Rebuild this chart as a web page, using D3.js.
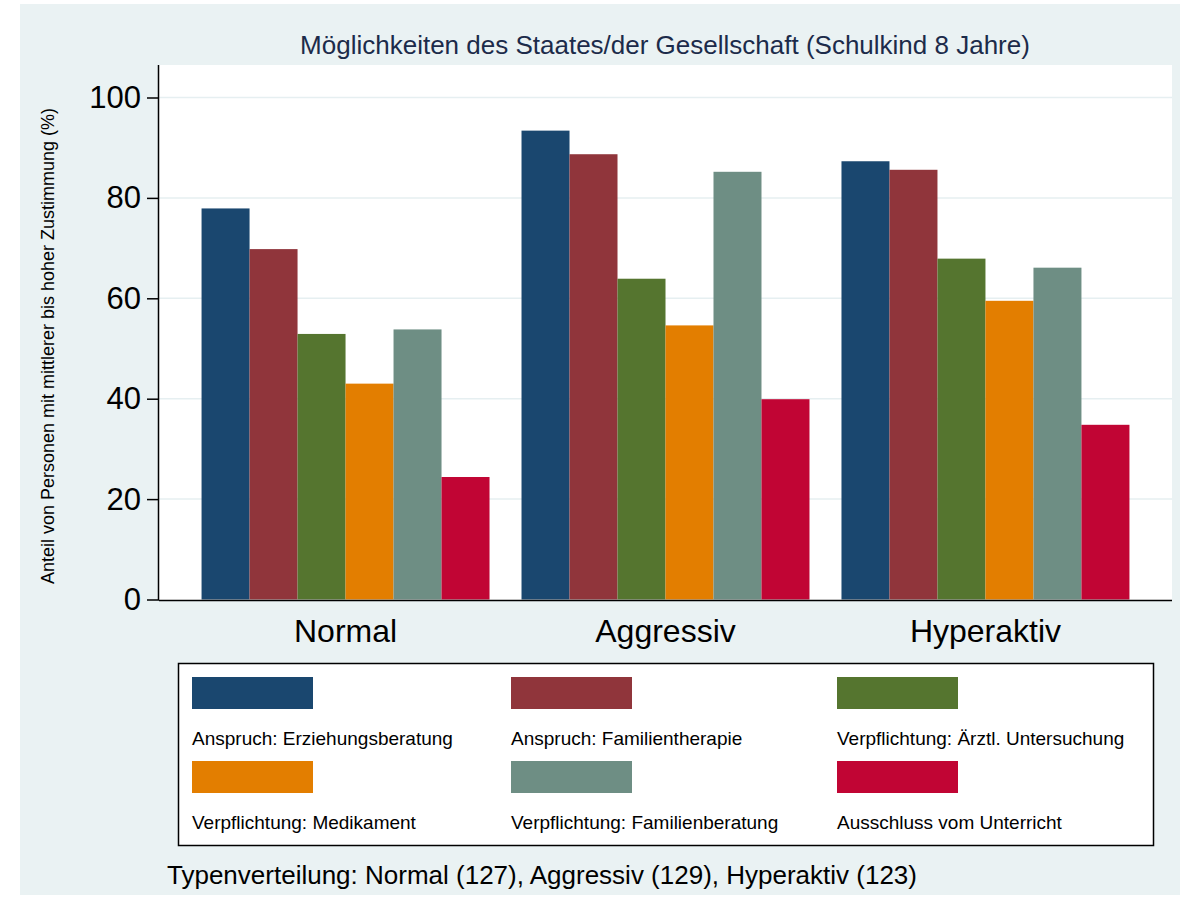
<!DOCTYPE html>
<html><head><meta charset="utf-8">
<script src="https://cdn.jsdelivr.net/npm/d3@7"></script>
<style>body{margin:0;background:#fff;}svg{display:block;font-family:"Liberation Sans",Arial,sans-serif;}</style>
</head><body><svg id="c" width="1189" height="899"></svg>
<script>
const categories = ["Normal", "Aggressiv", "Hyperaktiv"];
const seriesNames = ["Anspruch: Erziehungsberatung", "Anspruch: Familientherapie", "Verpflichtung: Ärztl. Untersuchung",
  "Verpflichtung: Medikament", "Verpflichtung: Familienberatung", "Ausschluss vom Unterricht"];
const erziehungsberatung = [77.9, 93.4, 87.3];
const familientherapie   = [69.8, 88.7, 85.6];
const untersuchung       = [52.9, 63.9, 67.9];
const medikament         = [43.0, 54.6, 59.5];
const familienberatung   = [53.8, 85.2, 66.1];
const ausschluss         = [24.4, 39.9, 34.8];
const seriesValues = [erziehungsberatung, familientherapie, untersuchung, medikament, familienberatung, ausschluss];
const yTicks = [0, 20, 40, 60, 80, 100];
const colors = ["#1a476f", "#90353b", "#55752f", "#e37e00", "#6e8e84", "#c10534"];
const title = "Möglichkeiten des Staates/der Gesellschaft (Schulkind 8 Jahre)";
const yTitle = "Anteil von Personen mit mittlerer bis hoher Zustimmung (%)";
const note = "Typenverteilung: Normal (127), Aggressiv (129), Hyperaktiv (123)";

const svg = d3.select("#c");
svg.append("rect").attr("x",20).attr("y",4).attr("width",1160).attr("height",891).attr("fill","#eaf2f3");

const L=159, R=1172, T=65, B=600;
svg.append("rect").attr("x",L).attr("y",T).attr("width",R-L).attr("height",B-T).attr("fill","#fff");

const y = d3.scaleLinear().domain([0,100]).range([599.5,97.5]);
const x0 = d3.scaleBand().domain(categories).range([L,R]).paddingInner(0.1).paddingOuter(0.133);
const x1 = d3.scaleBand().domain(d3.range(seriesNames.length)).range([0,x0.bandwidth()]);

// grid
svg.append("g").selectAll("line").data(yTicks.filter(d=>d>0)).join("line")
  .attr("x1",L).attr("x2",R).attr("y1",d=>y(d)).attr("y2",d=>y(d))
  .attr("stroke","#e6eff1").attr("stroke-width",1.5);

// bars
const g = svg.append("g");
categories.forEach((c,ci)=>{
  seriesValues.forEach((vals,si)=>{
    g.append("rect")
      .attr("x",x0(c)+x1(si)).attr("width",x1.bandwidth())
      .attr("y",y(vals[ci])).attr("height",y(0)-y(vals[ci]))
      .attr("fill",colors[si]);
  });
});

// y axis
const yAxis = d3.axisLeft(y).tickValues(yTicks).tickSize(12).tickPadding(6);
const ya = svg.append("g").attr("transform",`translate(${L},0)`).call(yAxis);
ya.select(".domain").attr("d",`M-0.5,${T}V${B}`).attr("stroke","#000").attr("stroke-width",1.5);
ya.selectAll(".tick line").attr("stroke","#000").attr("stroke-width",1.5);
ya.selectAll(".tick text").attr("font-size",31).attr("fill","#000").attr("font-family","Liberation Sans, Arial, sans-serif");

// x axis
const xAxis = d3.axisBottom(x0).tickSize(0).tickPadding(19);
const xa = svg.append("g").attr("transform",`translate(0,${B})`).call(xAxis);
xa.select(".domain").attr("d",`M${L},0.5H${R}`).attr("stroke","#000").attr("stroke-width",1.5);
xa.selectAll(".tick text").attr("font-size",32).attr("fill","#000").attr("font-family","Liberation Sans, Arial, sans-serif");

// title
svg.append("text").attr("x",665).attr("y",54).attr("text-anchor","middle")
  .attr("font-size",26).attr("fill","#1c2b4a").text(title);
// y title
svg.append("text").attr("transform","translate(54,346) rotate(-90)").attr("text-anchor","middle")
  .attr("font-size",18).attr("fill","#000").text(yTitle);

// legend
svg.append("rect").attr("x",178.5).attr("y",663.5).attr("width",975).attr("height",182)
  .attr("fill","#fff").attr("stroke","#000").attr("stroke-width",1.5);
const colX = [192, 511, 837];
const rowY = [677, 761];
seriesNames.forEach((n,i)=>{
  const cx = colX[i%3], ry = rowY[Math.floor(i/3)];
  svg.append("rect").attr("x",cx).attr("y",ry).attr("width",121).attr("height",32).attr("fill",colors[i]);
  svg.append("text").attr("x",cx).attr("y",ry+68).attr("font-size",19).attr("fill","#000").text(n);
});

svg.append("text").attr("x",167).attr("y",884).attr("font-size",26).attr("fill","#000").text(note);
</script></body></html>
